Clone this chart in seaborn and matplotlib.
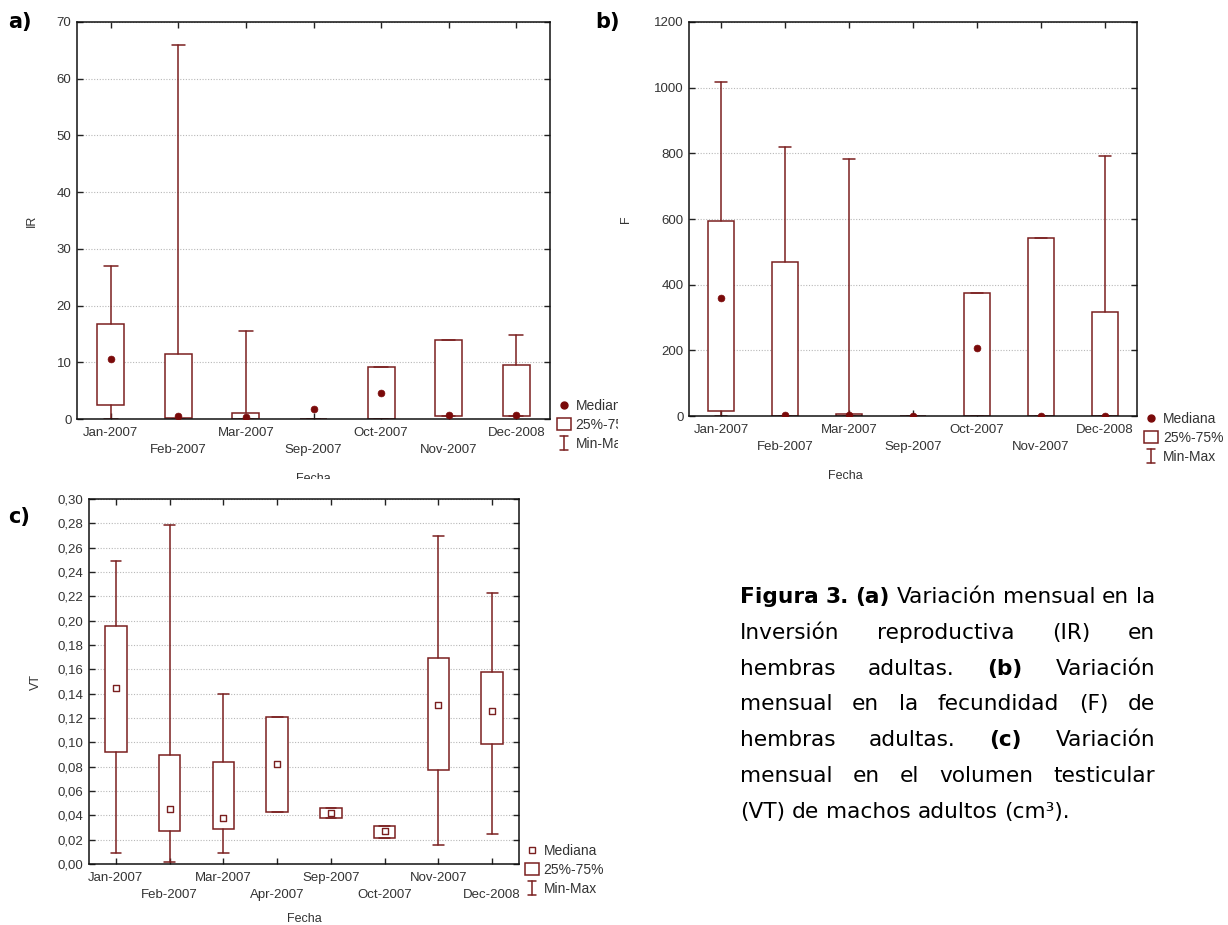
import numpy as np
import matplotlib
matplotlib.use("Agg")
import matplotlib.pyplot as plt
import seaborn as sns
from matplotlib.lines import Line2D
from matplotlib.patches import Patch
from matplotlib.legend_handler import HandlerBase
from matplotlib.transforms import Bbox, TransformedBbox
from matplotlib.ticker import MultipleLocator, FuncFormatter

# ---------------- data ----------------
# (a) Inversión reproductiva (IR), hembras adultas
months_a = ["Jan-2007", "Feb-2007", "Mar-2007", "Sep-2007", "Oct-2007", "Nov-2007", "Dec-2008"]
ir_min = [0.0, 0.0, 0.0, 0.0, 0.0, 0.5, 0.5]
ir_q1 = [2.5, 0.2, 0.0, 0.0, 0.0, 0.5, 0.5]
ir_med = [10.6, 0.5, 0.3, 1.8, 4.6, 0.7, 0.7]
ir_q3 = [16.8, 11.4, 1.0, 0.0, 9.1, 13.9, 9.6]
ir_max = [27.0, 66.0, 15.5, 0.0, 9.1, 13.9, 14.8]

# (b) Fecundidad (F), hembras adultas
months_b = ["Jan-2007", "Feb-2007", "Mar-2007", "Sep-2007", "Oct-2007", "Nov-2007", "Dec-2008"]
f_min = [0, 0, 0, 0, 0, 0, 0]
f_q1 = [16, 0, 0, 0, 0, 0, 0]
f_med = [360, 3, 3, 0, 208, 0, 0]
f_q3 = [595, 470, 5, 0, 375, 543, 318]
f_max = [1016, 818, 783, 0, 375, 543, 793]

# (c) Volumen testicular (VT), machos adultos
months_c = ["Jan-2007", "Feb-2007", "Mar-2007", "Apr-2007", "Sep-2007", "Oct-2007", "Nov-2007", "Dec-2008"]
vt_min = [0.009, 0.0015, 0.009, 0.043, 0.038, 0.021, 0.016, 0.025]
vt_q1 = [0.092, 0.027, 0.029, 0.043, 0.038, 0.021, 0.077, 0.099]
vt_med = [0.145, 0.045, 0.038, 0.082, 0.042, 0.027, 0.131, 0.126]
vt_q3 = [0.196, 0.090, 0.084, 0.121, 0.046, 0.031, 0.169, 0.158]
vt_max = [0.249, 0.279, 0.140, 0.121, 0.046, 0.031, 0.270, 0.223]

legend_labels = ["Mediana", "25%-75%", "Min-Max"]

# ---------------- style ----------------
sns.set_theme(style="white")
plt.rcParams["font.family"] = ["Liberation Sans", "DejaVu Sans"]
RED = "#7a1f1f"
TXT = "#333333"
W, H = 1228, 925

fig = plt.figure(figsize=(W / 100, H / 100), dpi=100)
fig.patch.set_facecolor("white")


def px_axes(left, top, right, bottom):
    return fig.add_axes([left / W, 1 - bottom / H, (right - left) / W, (bottom - top) / H])


class MinMax:
    pass


class MinMaxHandler(HandlerBase):
    def create_artists(self, legend, orig_handle, xdescent, ydescent, width, height, fontsize, trans):
        cx = -xdescent + width / 2
        y0 = -ydescent - 0.1 * height
        y1 = -ydescent + 1.05 * height
        hw = width * 0.32
        arts = [Line2D([cx, cx], [y0, y1]),
                Line2D([cx - hw, cx + hw], [y0, y0]),
                Line2D([cx - hw, cx + hw], [y1, y1])]
        for a in arts:
            a.set_color(RED)
            a.set_linewidth(1.1)
            a.set_transform(trans)
        return arts


def draw_panel(ax, months, lo, q1, med, q3, hi, ymax, step, square=False):
    n = len(months)
    stats = [dict(med=m, q1=a, q3=b, whislo=l, whishi=h, fliers=[])
             for l, a, m, b, h in zip(lo, q1, med, q3, hi)]
    ax.bxp(stats, positions=np.arange(n), widths=0.4, capwidths=0.2,
           patch_artist=True, showfliers=False, manage_ticks=False,
           boxprops=dict(facecolor="white", edgecolor=RED, linewidth=1.1),
           whiskerprops=dict(color=RED, linewidth=1.1),
           capprops=dict(color=RED, linewidth=1.1),
           medianprops=dict(linewidth=0))
    if square:
        sns.scatterplot(x=np.arange(n), y=med, ax=ax, marker="s", s=16,
                        facecolor="white", edgecolor=RED, linewidth=1.0,
                        zorder=5, legend=False)
    else:
        sns.scatterplot(x=np.arange(n), y=med, ax=ax, marker="o", s=24,
                        color="#7a0a0a", edgecolor="#7a0a0a", linewidth=0.5,
                        zorder=5, legend=False)
    ax.set_xlim(-0.5, n - 0.5)
    ax.set_ylim(0, ymax)
    ax.yaxis.set_major_locator(MultipleLocator(step))
    ax.set_xticks(np.arange(n))
    ax.set_xticklabels([m if i % 2 == 0 else "\n" + m for i, m in enumerate(months)],
                       fontsize=9.5, color=TXT, linespacing=1.55)
    ax.set_axisbelow(True)
    ax.yaxis.grid(True, linestyle=(0, (1, 1.5)), color="#b8b8b8", linewidth=0.8)
    ax.xaxis.grid(False)
    ax.tick_params(axis="both", which="major", direction="in", length=4, width=1,
                   top=True, right=True, bottom=True, left=True, color="#222222",
                   labelsize=9.5, labelcolor=TXT, pad=4)
    ax.tick_params(axis="x", pad=6)
    for sp in ax.spines.values():
        sp.set_visible(True)
        sp.set_color("#111111")
        sp.set_linewidth(1.1)
    ax.set_xlabel("Fecha", fontsize=9, color=TXT)
    ax.xaxis.label.set_va("center")
    med_handle = (Line2D([], [], marker="s", ls="none", markerfacecolor="white",
                         markeredgecolor=RED, markersize=4.5, markeredgewidth=1.0)
                  if square else
                  Line2D([], [], marker="o", ls="none", color="#7a0a0a", markersize=5))
    handles = [med_handle, Patch(facecolor="white", edgecolor=RED, linewidth=1.1), MinMax()]
    return handles


def add_legend(ax, handles, x, y):
    return ax.legend(handles, legend_labels, handler_map={MinMax: MinMaxHandler()},
                     loc="upper left", bbox_to_anchor=(x / W, 1 - y / H),
                     bbox_transform=fig.transFigure, frameon=False, fontsize=10,
                     handlelength=1.0, handleheight=1.0, handletextpad=0.35,
                     labelspacing=0.35, borderpad=0, borderaxespad=0,
                     labelcolor=TXT)


# ---------------- panel a ----------------
ax_a = px_axes(77, 22, 550, 419)
h_a = draw_panel(ax_a, months_a, ir_min, ir_q1, ir_med, ir_q3, ir_max, 70, 10)
ax_a.set_ylabel("IR", fontsize=9, color=TXT)
ax_a.yaxis.set_label_coords(-0.082, 0.5)
ax_a.xaxis.set_label_coords(0.499, -(479 - 419) / 397)
leg_a = add_legend(ax_a, h_a, 557, 399)
clip_a = TransformedBbox(Bbox([[0, 0], [618 / W, 1]]), fig.transFigure)
for t in leg_a.get_texts():
    t.set_clip_on(True)
    t.set_clip_box(clip_a)
clip_fecha = TransformedBbox(Bbox([[0, 1 - 479 / H], [1, 1]]), fig.transFigure)
ax_a.xaxis.label.set_clip_on(True)
ax_a.xaxis.label.set_clip_box(clip_fecha)

# ---------------- panel b ----------------
ax_b = px_axes(689, 22, 1137, 416)
h_b = draw_panel(ax_b, months_b, f_min, f_q1, f_med, f_q3, f_max, 1200, 200)
ax_b.set_ylabel("F", fontsize=9, color=TXT)
ax_b.yaxis.set_label_coords(-0.127, 0.5)
ax_b.xaxis.set_label_coords((845 - 689) / 448, -(476 - 416) / 394)
add_legend(ax_b, h_b, 1144, 412)

# ---------------- panel c ----------------
ax_c = px_axes(89, 499, 519, 864)
h_c = draw_panel(ax_c, months_c, vt_min, vt_q1, vt_med, vt_q3, vt_max, 0.30, 0.02, square=True)
ax_c.yaxis.set_major_formatter(FuncFormatter(lambda v, p: f"{v:.2f}".replace(".", ",")))
ax_c.set_ylabel("VT", fontsize=9, color=TXT)
ax_c.yaxis.set_label_coords(-0.109, 0.5)
ax_c.xaxis.set_label_coords(0.5, -(919 - 864) / 365)
add_legend(ax_c, h_c, 525, 844)

# ---------------- panel tags ----------------
for tag, x, y in [("a)", 8, 22), ("b)", 595, 22), ("c)", 8, 517)]:
    fig.text(x / W, 1 - y / H, tag, fontsize=15, fontweight="bold",
             family=["DejaVu Sans"], color="black", va="center", ha="left")

# ---------------- caption (justified) ----------------
CAP_FONT = ["DejaVu Sans"]
cap_lines = [
    [("Figura", True), ("3.", True), ("(a)", True), ("Variación", False), ("mensual", False), ("en", False), ("la", False)],
    [("Inversión", False), ("reproductiva", False), ("(IR)", False), ("en", False)],
    [("hembras", False), ("adultas.", False), ("(b)", True), ("Variación", False)],
    [("mensual", False), ("en", False), ("la", False), ("fecundidad", False), ("(F)", False), ("de", False)],
    [("hembras", False), ("adultas.", False), ("(c)", True), ("Variación", False)],
    [("mensual", False), ("en", False), ("el", False), ("volumen", False), ("testicular", False)],
    [("(VT)", False), ("de", False), ("machos", False), ("adultos", False), ("(cm³).", False)],
]
renderer = fig.canvas.get_renderer()


def text_w(s, bold, fs):
    t = fig.text(0, 0, s, fontsize=fs, fontweight="bold" if bold else "normal", family=CAP_FONT)
    w = t.get_window_extent(renderer).width
    t.remove()
    return w


cap_left, cap_right = 740, 1155
base_fs = 14.0
space0 = text_w("a a", False, base_fs) - text_w("aa", False, base_fs)
nat = sum(text_w(w, b, base_fs) for w, b in cap_lines[0]) + space0 * (len(cap_lines[0]) - 1)
cap_fs = base_fs * (cap_right - cap_left) / nat
space = text_w("a a", False, cap_fs) - text_w("aa", False, cap_fs)

for i, line in enumerate(cap_lines):
    y = 603 + i * 35.8
    widths = [text_w(w, b, cap_fs) for w, b in line]
    last = i == len(cap_lines) - 1
    gap = space if last else (cap_right - cap_left - sum(widths)) / (len(line) - 1)
    x = cap_left
    for (word, bold), w in zip(line, widths):
        fig.text(x / W, 1 - y / H, word, fontsize=cap_fs, family=CAP_FONT,
                 fontweight="bold" if bold else "normal", color="black",
                 va="baseline", ha="left")
        x += w + gap

fig.savefig("out.png", dpi=100)
